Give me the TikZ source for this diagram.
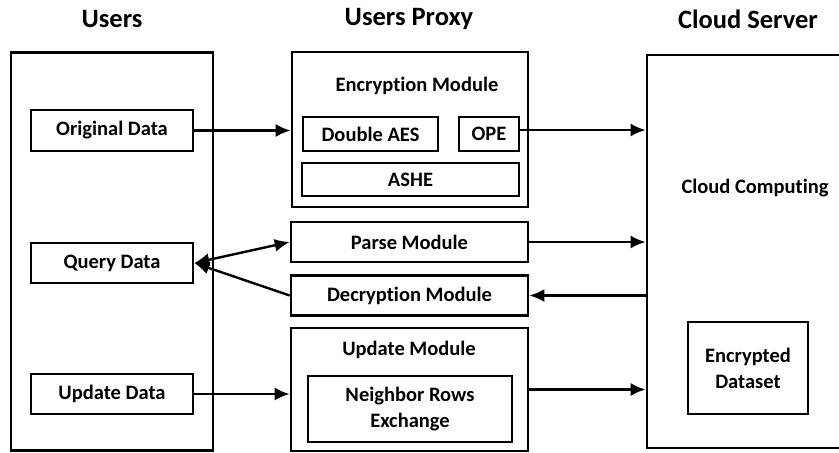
\documentclass[tikz,border=0pt]{standalone}
\usepackage{fontspec}
\setmainfont{Carlito}[Ligatures=NoCommon]
\usepackage{tikz}
\usetikzlibrary{arrows.meta, calc}

\begin{document}
\begin{tikzpicture}[x=1pt, y=-1pt, >={Latex[length=15pt,width=13pt]},
	box/.style={draw=black, line width=2.6pt, rectangle, inner sep=0pt, font=\fontsize{20.5}{24}\selectfont\bfseries, align=center},
	head/.style={font=\fontsize{26.5}{30}\selectfont\bfseries},
	lbl/.style={font=\fontsize{20.5}{24}\selectfont\bfseries},
	pfeil/.style={->, line width=2.4pt}]

	\path[use as bounding box, clip] (0,0) rectangle (839,453);

	% Ueberschriften
	\node[head](usr_h) at (112,19) {Users};
	\node[head](prx_h) at (409,19) {Users Proxy};
	\node[head](cld_h) at (748,19) {Cloud Server};

	% Users
	\node[box, minimum width=202pt, minimum height=398pt](usr) at (112,251.5) {};
	\node[box, minimum width=162pt, minimum height=41pt](orig) at (112,130.5) {Original Data};
	\node[box, minimum width=162pt, minimum height=40pt](qry) at (112,263) {Query Data};
	\node[box, minimum width=162pt, minimum height=40pt](upd) at (112,394) {Update Data};

	% Users Proxy
	\node[box, minimum width=236pt, minimum height=155pt](enc) at (410,129.5) {};
	\node[lbl](enc_t) at (417,86) {Encryption Module};
	\node[box, minimum width=135pt, minimum height=34pt](aes) at (370.5,134) {Double AES};
	\node[box, minimum width=60pt, minimum height=34pt](ope) at (489,134) {OPE};
	\node[box, minimum width=217pt, minimum height=33pt](ashe) at (410.5,179.5) {ASHE};
	\node[box, minimum width=237pt, minimum height=40pt](prs) at (409.5,242) {Parse Module};
	\node[box, minimum width=237pt, minimum height=40pt](dec) at (409.5,295.5) {Decryption Module};
	\node[box, minimum width=237pt, minimum height=123pt](updm) at (409.5,389.5) {};
	\node[lbl](updm_t) at (409,350) {Update Module};
	\node[box, minimum width=204pt, minimum height=66pt](nbr) at (410,409) {Neighbor Rows\\[2pt]Exchange};

	% Cloud Server
	\node[box, minimum width=210pt, minimum height=393pt](cld) at (752,251.5) {};
	\node[lbl](cld_t) at (755,188) {Cloud Computing};
	\node[box, minimum width=120pt, minimum height=92pt](eds) at (748,368) {Encrypted\\[2pt]Dataset};

	% Pfeile
	\draw[pfeil](orig.east) -- (orig.east -| enc.west);
	\draw[pfeil]($(ope.east)+(0,-4)$) -- ($(ope.east -| cld.west)+(0,-4)$);
	\draw[<->, line width=2.4pt](qry.east) -- (prs.west);
	\draw[pfeil](dec.west) -- (qry.east);
	\draw[pfeil](prs.east) -- (prs.east -| cld.west);
	\draw[pfeil](dec.east -| cld.west) -- (dec.east);
	\draw[pfeil](upd.east) -- (upd.east -| updm.west);
	\draw[pfeil](updm.east) -- (updm.east -| cld.west);

\end{tikzpicture}
\end{document}
